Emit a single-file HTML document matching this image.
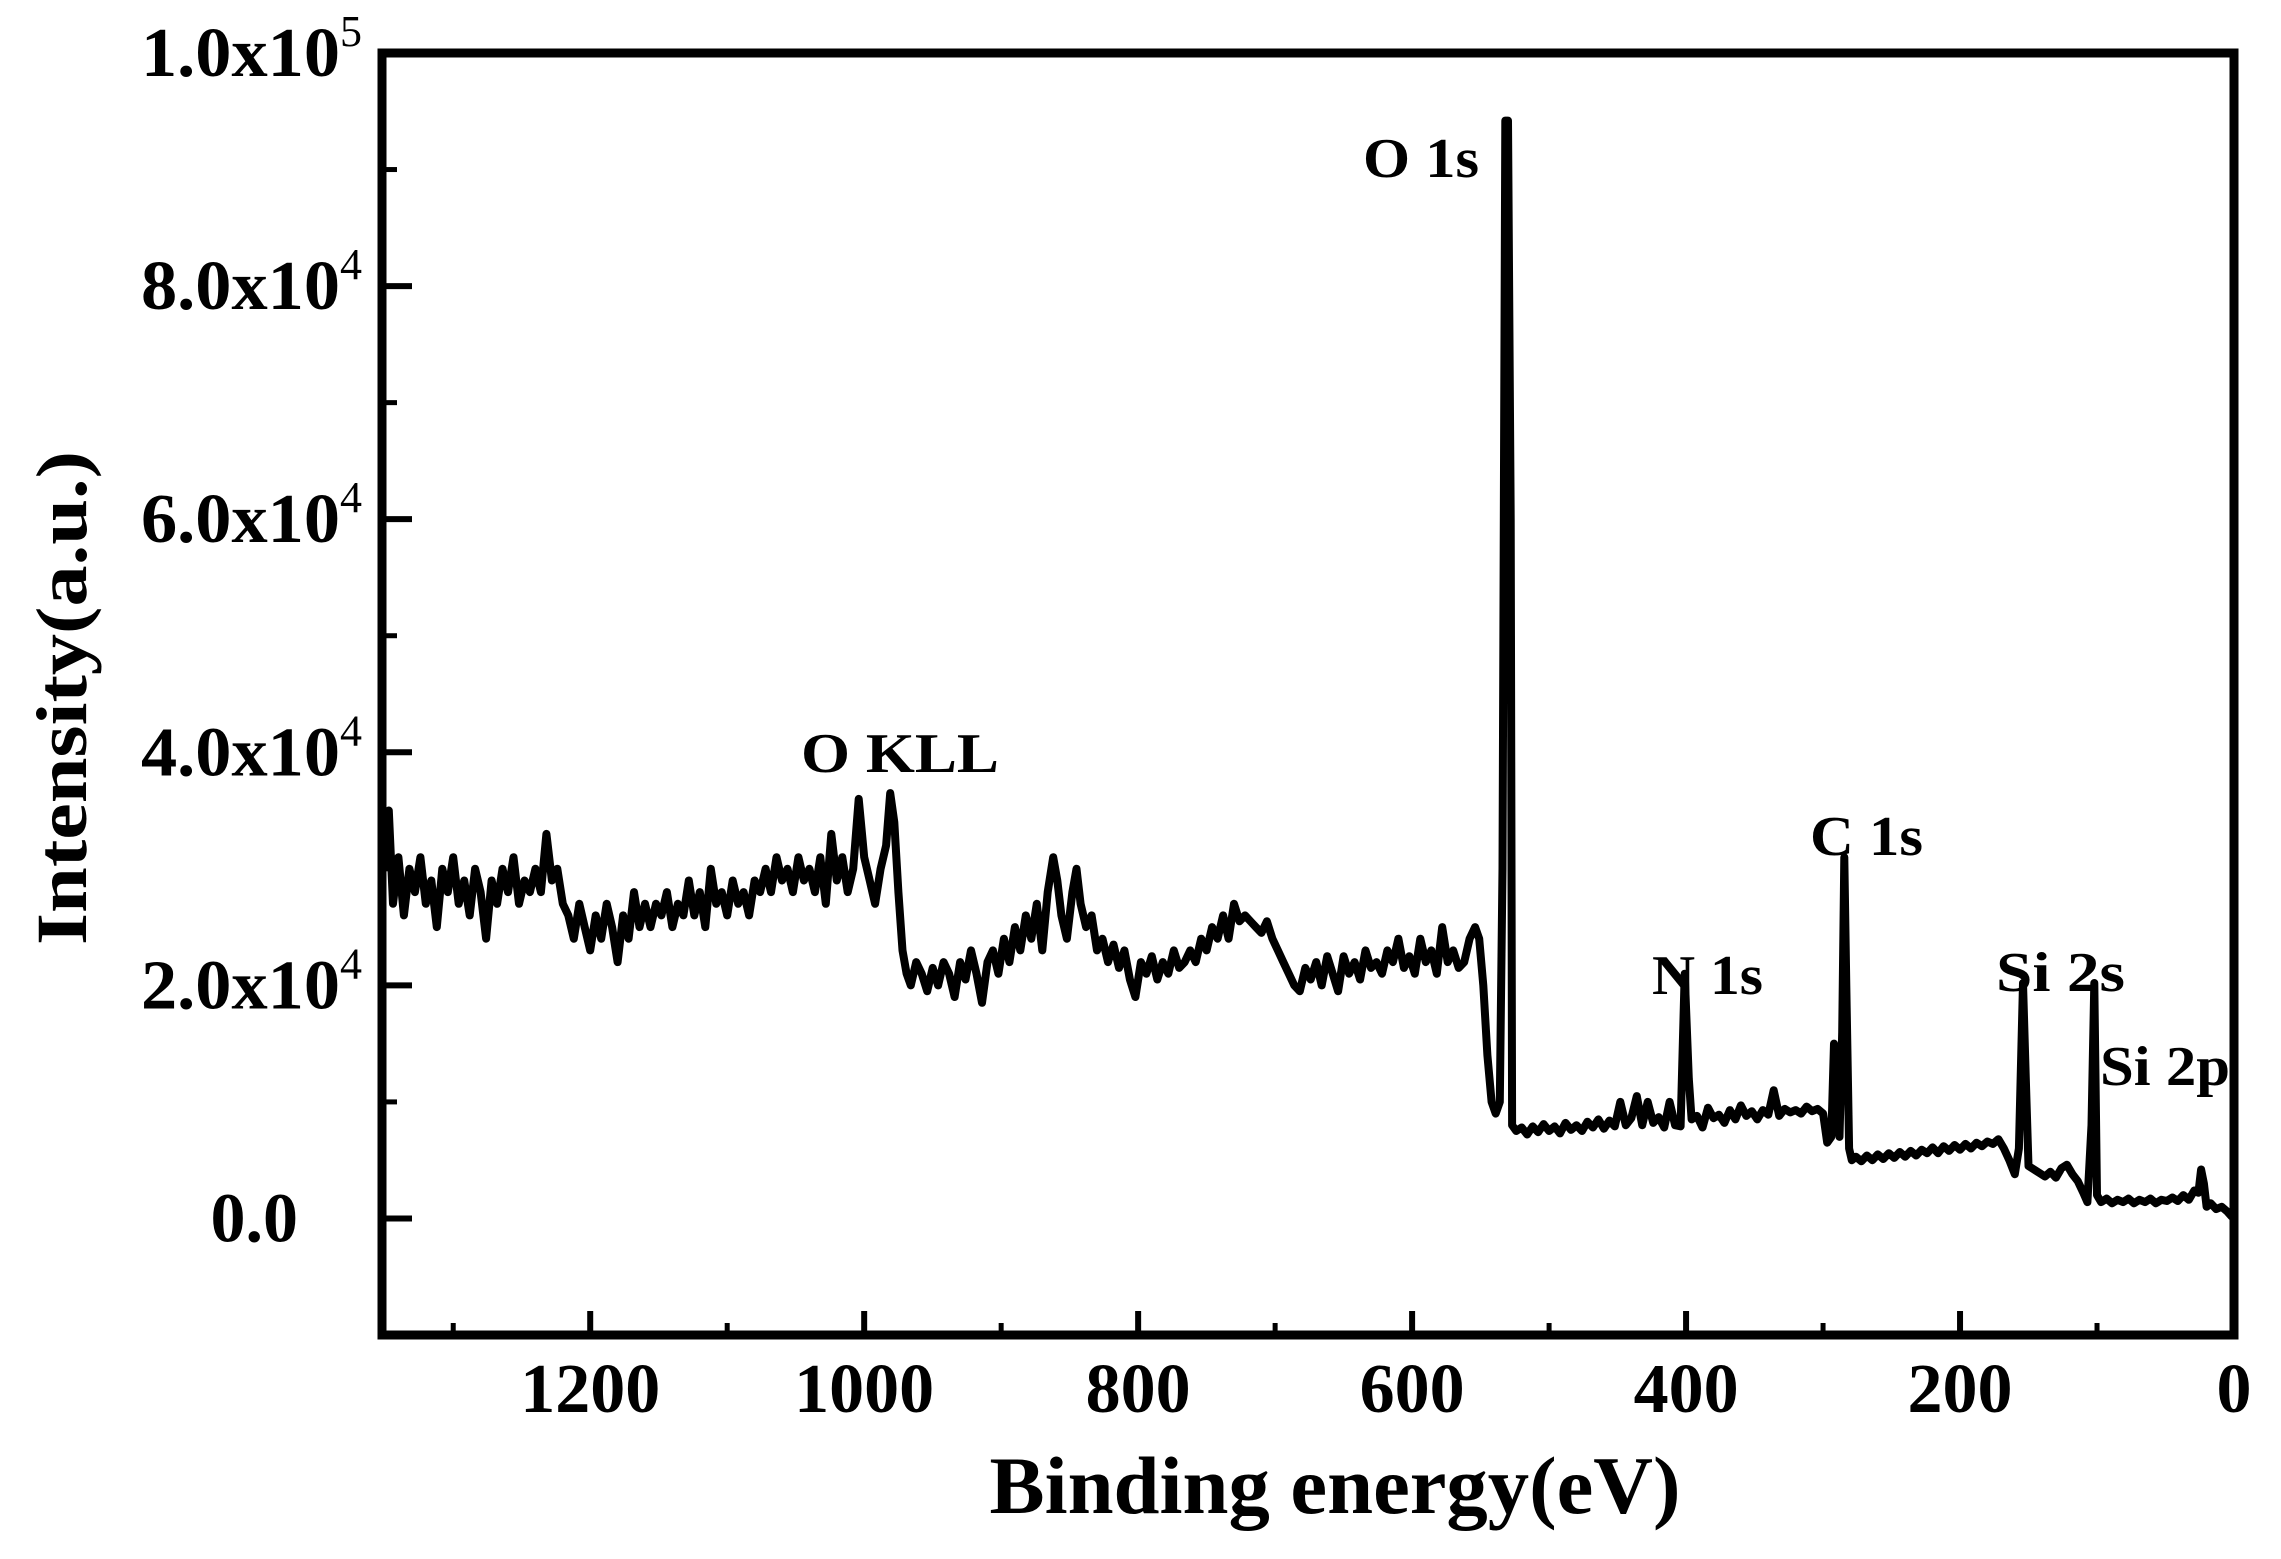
<!DOCTYPE html>
<html><head><meta charset="utf-8">
<style>
html,body{margin:0;padding:0;background:#fff;}
svg{display:block;font-family:"Liberation Serif",serif;font-weight:bold;}
</style></head>
<body>
<svg id="chart" width="2281" height="1559" viewBox="0 0 2281 1559" xmlns="http://www.w3.org/2000/svg">
<g id="axes"></g>
<path id="spectrum" fill="none" stroke="#000" stroke-width="8" stroke-linejoin="round"></path>
<rect x="382" y="53" width="1852" height="1282" fill="none" stroke="#000" stroke-width="9"></rect>
<text x="1335" y="1513" font-size="82" text-anchor="middle" textLength="691" lengthAdjust="spacingAndGlyphs">Binding energy(eV)</text>
<text transform="translate(86,698) rotate(-90)" font-size="72" text-anchor="middle" textLength="494" lengthAdjust="spacingAndGlyphs">Intensity(a.u.)</text>
<text x="1363" y="177" font-size="56" textLength="116" lengthAdjust="spacingAndGlyphs">O 1s</text>
<text x="801" y="772" font-size="56" textLength="198" lengthAdjust="spacingAndGlyphs">O KLL</text>
<text x="1810" y="855" font-size="56" textLength="113" lengthAdjust="spacingAndGlyphs">C 1s</text>
<text x="1652" y="994" font-size="56" textLength="111" lengthAdjust="spacingAndGlyphs">N 1s</text>
<text x="1996" y="991" font-size="56" textLength="129" lengthAdjust="spacingAndGlyphs">Si 2s</text>
<text x="2100" y="1085" font-size="56" textLength="130" lengthAdjust="spacingAndGlyphs">Si 2p</text>
</svg>
<script>
const energies = [1350,1347,1344,1340,1336,1332,1328,1324,1320,1316,1312,1308,1304,1300,1296,1292,1288,1284,1280,1276,1272,1268,1264,1260,1256,1252,1248,1244,1240,1236,1232,1228,1224,1220,
1216,1212,1208,1204,1200,1196,1192,1188,1184,1180,1176,1172,1168,1164,1160,1156,1152,1148,1144,1140,1136,1132,1128,1124,1120,1116,1112,1108,1104,1100,1096,1092,1088,1084,1080,1076,1072,1068,1064,1060,1056,1052,1048,1044,1040,1036,1032,1028,1024,1020,1016,1012,1008,
1004,1000,996,992,988,984,981,978,975,972,969,
966,962,958,954,950,946,942,938,934,930,926,922,918,914,910,906,902,898,894,890,886,882,878,874,870,866,862,859,856,852,848,845,842,838,834,830,826,822,818,814,810,806,802,798,794,790,786,782,778,774,770,766,762,758,754,750,746,742,738,734,730,726,722,718,714,710,706,702,698,694,690,686,682,678,674,670,666,662,658,654,650,646,642,638,634,630,626,622,618,614,610,606,602,598,594,590,586,582,578,574,570,566,562,558,554,551,548,545,542,539,536,534,532,530,528,527,524,520,516,512,508,504,500,496,492,488,484,480,476,472,468,464,460,456,452,448,444,440,436,432,428,424,420,416,412,408,404,401,398,396,392,388,384,380,376,372,368,364,360,356,352,348,344,340,336,332,328,324,320,316,312,308,304,300,297,294,292,290,288,286,284.5,283,281,279,276,272,268,264,260,256,252,248,244,240,236,232,228,224,220,216,212,208,204,200,196,192,188,184,180,176,172,168,164,160,157,154,152,150,146,142,138,134,130,126,122,118,114,110,107,104,102,100,97,93,89,85,81,77,73,69,65,61,57,53,49,45,41,37,33,29,26,24,22,20,17,13,9,5,2,0];
const intensitiesK = [30,35,27,31,26,30,28,31,27,29,25,30,28,31,27,29,26,30,28,24,29,27,30,28,31,27,29,28,30,28,33,29,30,27,
26,24,27,25,23,26,24,27,25,22,26,24,28,25,27,25,27,26,28,25,27,26,29,26,28,25,30,27,28,26,29,27,28,26,29,28,30,28,31,29,30,28,31,29,30,28,31,27,33,29,31,28,30,
36,31,29,27,30,32,36.5,34,28,23,21,
20,22,21,19.5,21.5,20,22,21,19,22,20.5,23,21,18.5,22,23,21,24,22,25,23,26,24,27,23,28,31,29,26,24,28,30,27,25,26,23,24,22,23.5,21.5,23,20.5,19,22,21,22.5,20.5,22,21,23,21.5,22,23,22,24,23,25,24,26,24,27,25.5,26,25.5,25,24.5,25.5,24,23,22,21,20,19.5,21.5,20.5,22,20,22.5,21,19.5,22.5,21,22,20.5,23,21.5,22,21,23,22,24,21.5,22.5,21,24,22,23,21,25,22,23,21.5,22,24,25,24,20,14,10,9,10,30,94.2,94.2,60,8,7.5,7.8,7.2,7.9,7.4,8.1,7.5,7.9,7.3,8.2,7.6,8,7.5,8.3,7.8,8.5,7.7,8.4,7.9,10,8,8.6,10.5,8,10,8.2,8.7,7.8,10,8,7.9,21,12,8.5,8.8,7.8,9.5,8.6,8.9,8.2,9.3,8.5,9.7,8.8,9.2,8.5,9.3,8.9,11,8.8,9.4,9.1,9.3,9,9.6,9.2,9.4,9,6.5,7,15,9,7,16,31,20,6,5,5.3,4.9,5.4,5,5.5,5.1,5.6,5.2,5.7,5.3,5.8,5.4,5.9,5.6,6.1,5.6,6.2,5.8,6.3,5.9,6.4,6,6.5,6.2,6.6,6.4,6.8,6,5,3.8,6,20.2,12,4.5,4.2,3.9,3.6,4,3.5,4.3,4.6,3.8,3.2,2.2,1.4,8,20.2,2,1.4,1.7,1.3,1.6,1.4,1.7,1.3,1.6,1.4,1.7,1.3,1.6,1.5,1.8,1.5,2,1.6,2.4,2.2,4.2,3,1,1.3,0.8,1,0.6,0.2,0];
const xMajorTicks = [1200,1000,800,600,400,200,0];
const xMinorTicks = [1300,1100,900,700,500,300,100];
const yMajorTicks = [0,20000,40000,60000,80000,100000];
const yMinorTicks = [-10000,10000,30000,50000,70000,90000];
const yTickMantissa = ["0.0","2.0x10","4.0x10","6.0x10","8.0x10","1.0x10"];
const yTickExponent = ["","4","4","4","4","5"];

const X0 = 382, X1 = 2234, Y0 = 53, Y1 = 1335;
const E_MAX = 1352, E_MIN = 0, I_MIN = -10000, I_MAX = 100000;
function xScale(e){ return X1 - (e - E_MIN) / (E_MAX - E_MIN) * (X1 - X0); }
function yScale(v){ return Y1 - (v - I_MIN) / (I_MAX - I_MIN) * (Y1 - Y0); }

const NS = "http://www.w3.org/2000/svg";
const axes = document.getElementById("axes");
function mk(tag, attrs){ const el = document.createElementNS(NS, tag); for (const k in attrs) el.setAttribute(k, attrs[k]); axes.appendChild(el); return el; }

xMajorTicks.forEach(function(e){
  const x = xScale(e);
  const t = mk("line", {x1:x, x2:x, y1:Y1, y2:Y1-24, stroke:"#000", "stroke-width":6});
  
  
  const lb = mk("text", {x:x, y:1412, "font-size":70, "text-anchor":"middle"});
  lb.textContent = String(e);
  
  
});
xMinorTicks.forEach(function(e){
  const x = xScale(e);
  const t = mk("line", {x1:x, x2:x, y1:Y1, y2:Y1-12, stroke:"#000", "stroke-width":5});
  
  
});
yMajorTicks.forEach(function(v, i){
  const y = yScale(v);
  const t = mk("line", {x1:X0, x2:X0+30, y1:y, y2:y, stroke:"#000", "stroke-width":6});
  
  
  let lb;
  if (yTickExponent[i] === "") {
    lb = mk("text", {x:298, y:y+23, "font-size":70, "text-anchor":"end"});
    lb.textContent = yTickMantissa[i];
  } else {
    lb = mk("text", {x:141, y:y+23, "font-size":70});
    const m = document.createElementNS(NS, "tspan");
    m.setAttribute("textLength", 199);
    m.setAttribute("lengthAdjust", "spacingAndGlyphs");
    m.textContent = yTickMantissa[i];
    lb.appendChild(m);
    const s = document.createElementNS(NS, "tspan");
    s.setAttribute("font-size", 44);
    s.setAttribute("dy", -30);
    s.setAttribute("font-weight", "normal");
    s.textContent = yTickExponent[i];
    lb.appendChild(s);
  }
  
  
});
yMinorTicks.forEach(function(v){
  const y = yScale(v);
  const t = mk("line", {x1:X0, x2:X0+15, y1:y, y2:y, stroke:"#000", "stroke-width":5});
  
  
});

let d = "";
energies.forEach(function(e, i){
  d += (i === 0 ? "M" : "L") + xScale(e).toFixed(1) + "," + yScale(intensitiesK[i] * 1000).toFixed(1);
});
document.getElementById("spectrum").setAttribute("d", d);
</script>
</body></html>
